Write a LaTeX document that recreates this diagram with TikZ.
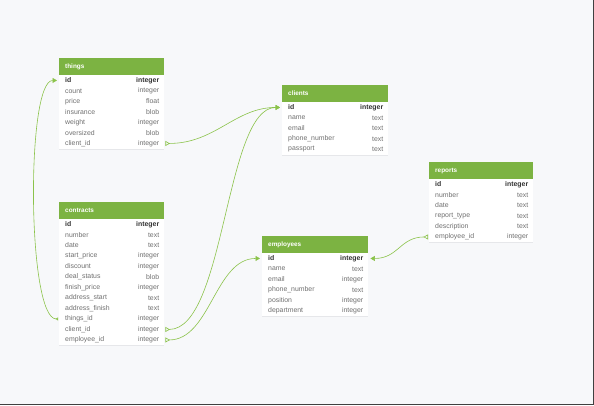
\documentclass[tikz,border=0pt]{standalone}
\usepackage{fontspec}
\setmainfont{Liberation Sans}
\usetikzlibrary{arrows.meta,calc}
\definecolor{hgreen}{HTML}{7CB342}
\definecolor{lgreen}{HTML}{8BC34A}
\definecolor{pagebg}{HTML}{F7F8FA}
\definecolor{sepc}{HTML}{E6E7EA}
\definecolor{fieldc}{HTML}{707070}
\definecolor{idc}{HTML}{333333}
\tikzset{
  hdr/.style={fill=hgreen, draw=none, minimum height=17pt, inner sep=0pt},
  ttl/.style={text=white, font=\fontsize{6.4}{7}\selectfont\bfseries, inner sep=0pt},
  rowbox/.style={fill=white, draw=none, minimum height=10.5pt, inner sep=0pt},
  fld/.style={text=fieldc, font=\fontsize{6.9}{7}\selectfont, inner sep=0pt},
  sepline/.style={draw=sepc, line width=0.4pt},
  rel/.style={draw=lgreen, line width=0.6pt},
  manyone/.style={{Triangle[open,reversed,length=4.5pt,width=5pt]}-{Triangle[length=4.5pt,width=5pt]}}
}
\newcommand\dbtable[6]{%
  \node[hdr, minimum width=#5, anchor=north west] (#1-h) at (#3,#4) {};
  \node[ttl, anchor=west] (#1-t) at ($(#1-h.west)+(6,0)$) {#2};
  \foreach \f/\t [count=\i from 0] in {#6} {
    \node[rowbox, minimum width=#5, anchor=north west] (#1-\i) at (#3,#4+17+\i*10.5) {};
    \draw[sepline] (#1-\i.south west) -- (#1-\i.south east);
    \ifnum\i=0
      \node[fld, text=idc, font=\fontsize{6.9}{7}\selectfont\bfseries, anchor=west] (#1-\i-n) at ($(#1-\i.west)+(6,0)$) {\f};
      \node[fld, text=idc, font=\fontsize{6.9}{7}\selectfont\bfseries, anchor=east] (#1-\i-y) at ($(#1-\i.east)+(-5,0)$) {\t};
    \else
      \node[fld, anchor=west] (#1-\i-n) at ($(#1-\i.west)+(6,0)$) {\f};
      \node[fld, anchor=east] (#1-\i-y) at ($(#1-\i.east)+(-5,0)$) {\t};
    \fi
  }
}
\begin{document}
\begin{tikzpicture}[x=1pt, y=-1pt]
  \fill[pagebg] (0,0) rectangle (594,405);
  \useasboundingbox (0,0) rectangle (594,405);
  \draw[black!75, line width=1.2pt] (593.4,0) -- (593.4,404.4) -- (0,404.4);

  \dbtable{things}{things}{59}{58}{105}{id/integer, count/integer, price/float, insurance/blob, weight/integer, oversized/blob, client\_id/integer}
  \dbtable{clients}{clients}{282}{85}{106}{id/integer, name/text, email/text, phone\_number/text, passport/text}
  \dbtable{reports}{reports}{429}{162}{104}{id/integer, number/text, date/text, report\_type/text, description/text, employee\_id/integer}
  \dbtable{contracts}{contracts}{59}{202}{105}{id/integer, number/text, date/text, start\_price/integer, discount/integer, deal\_status/blob, finish\_price/integer, address\_start/text, address\_finish/text, things\_id/integer, client\_id/integer, employee\_id/integer}
  \dbtable{employees}{employees}{262}{236}{106}{id/integer, name/text, email/integer, phone\_number/text, position/integer, department/integer}

  \draw[rel, manyone] ($(things-6.east)+(1,0)$) .. controls +(50,0) and +(-45,0) .. ($(clients-0.west)+(-2,0)$);
  \draw[rel, manyone] ($(contracts-10.east)+(1,0)$) .. controls +(60,0) and +(-55,0) .. ($(clients-0.west)+(-2,0)$);
  \draw[rel, manyone] ($(contracts-11.east)+(1,0)$) .. controls +(45,0) and +(-45,0) .. ($(employees-0.west)+(-2,0)$);
  \draw[rel, manyone] ($(reports-5.west)+(-1,0)$) .. controls +(-28,0) and +(28,0) .. ($(employees-0.east)+(2,0)$);
  \draw[rel, {Triangle[open,reversed,length=2.5pt,width=3pt]}-{Triangle[length=4.5pt,width=5pt]}] ($(contracts-9.west)+(-1,0)$) .. controls +(-31,0) and +(-31,0) .. ($(things-0.west)+(-2,0)$);
\end{tikzpicture}
\end{document}
